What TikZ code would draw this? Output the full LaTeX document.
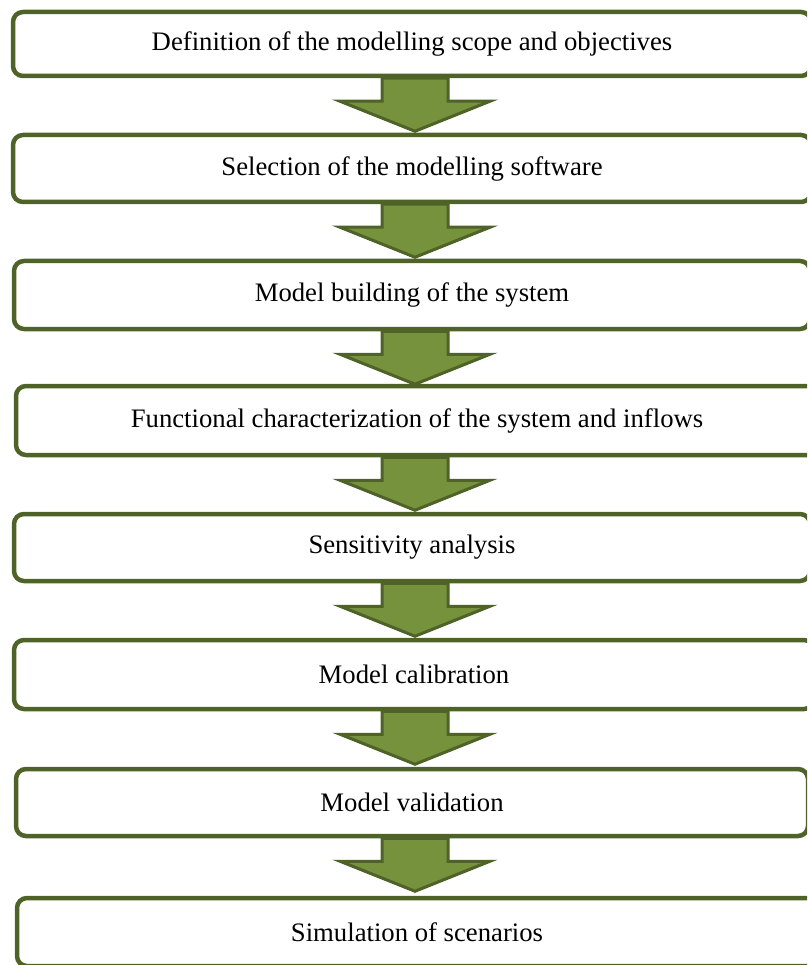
\documentclass[tikz,border=0pt]{standalone}
\usepackage{fontspec}
\setmainfont{Liberation Serif}
\usetikzlibrary{calc}
\definecolor{boxline}{HTML}{4F6228}
\definecolor{arrowfill}{HTML}{76923C}
\tikzset{
  stepbox/.style={draw=boxline, line width=4.5pt, rounded corners=10pt, fill=white,
    inner sep=0pt, font=\fontsize{26.7}{31}\selectfont, text=black},
  flowarrow/.style={draw=boxline, fill=arrowfill, line width=3pt, line join=miter},
}
\begin{document}
\begin{tikzpicture}[x=1pt,y=-1pt]
\useasboundingbox (0,0) rectangle (807,965);
\clip (0,0) rectangle (807,965);
\coordinate (ax) at (415,0);
% boxes: center x, center y, width, height
\node[stepbox, minimum width=798pt, minimum height=64pt] (b1) at (412,44) {Definition of the modelling scope and objectives};
\node[stepbox, minimum width=798pt, minimum height=67pt] (b2) at (412,168.5) {Selection of the modelling software};
\node[stepbox, minimum width=796pt, minimum height=68pt] (b3) at (412,295) {Model building of the system};
\node[stepbox, minimum width=802pt, minimum height=69pt] (b4) at (417,420.5) {Functional characterization of the system and inflows};
\node[stepbox, minimum width=796pt, minimum height=67pt] (b5) at (412,547.5) {Sensitivity analysis};
\node[stepbox, minimum width=800pt, minimum height=69pt] (b6) at (414,674.5) {Model calibration};
\node[stepbox, minimum width=792pt, minimum height=67pt] (b7) at (412,802.5) {Model validation};
\node[stepbox, minimum width=800pt, minimum height=68pt] (b8) at (417,932) {Simulation of scenarios};
% arrows
\foreach \i in {1,...,7}{
  \coordinate (s\i) at (b\i.south -| ax);
  \draw[flowarrow] ($(s\i)+(-33,0)$) -- ($(s\i)+(33,0)$) -- ($(s\i)+(33,23)$) -- ($(s\i)+(75,23)$)
     -- ($(s\i)+(0,53)$) -- ($(s\i)+(-75,23)$) -- ($(s\i)+(-33,23)$) -- cycle;
}
\end{tikzpicture}
\end{document}
